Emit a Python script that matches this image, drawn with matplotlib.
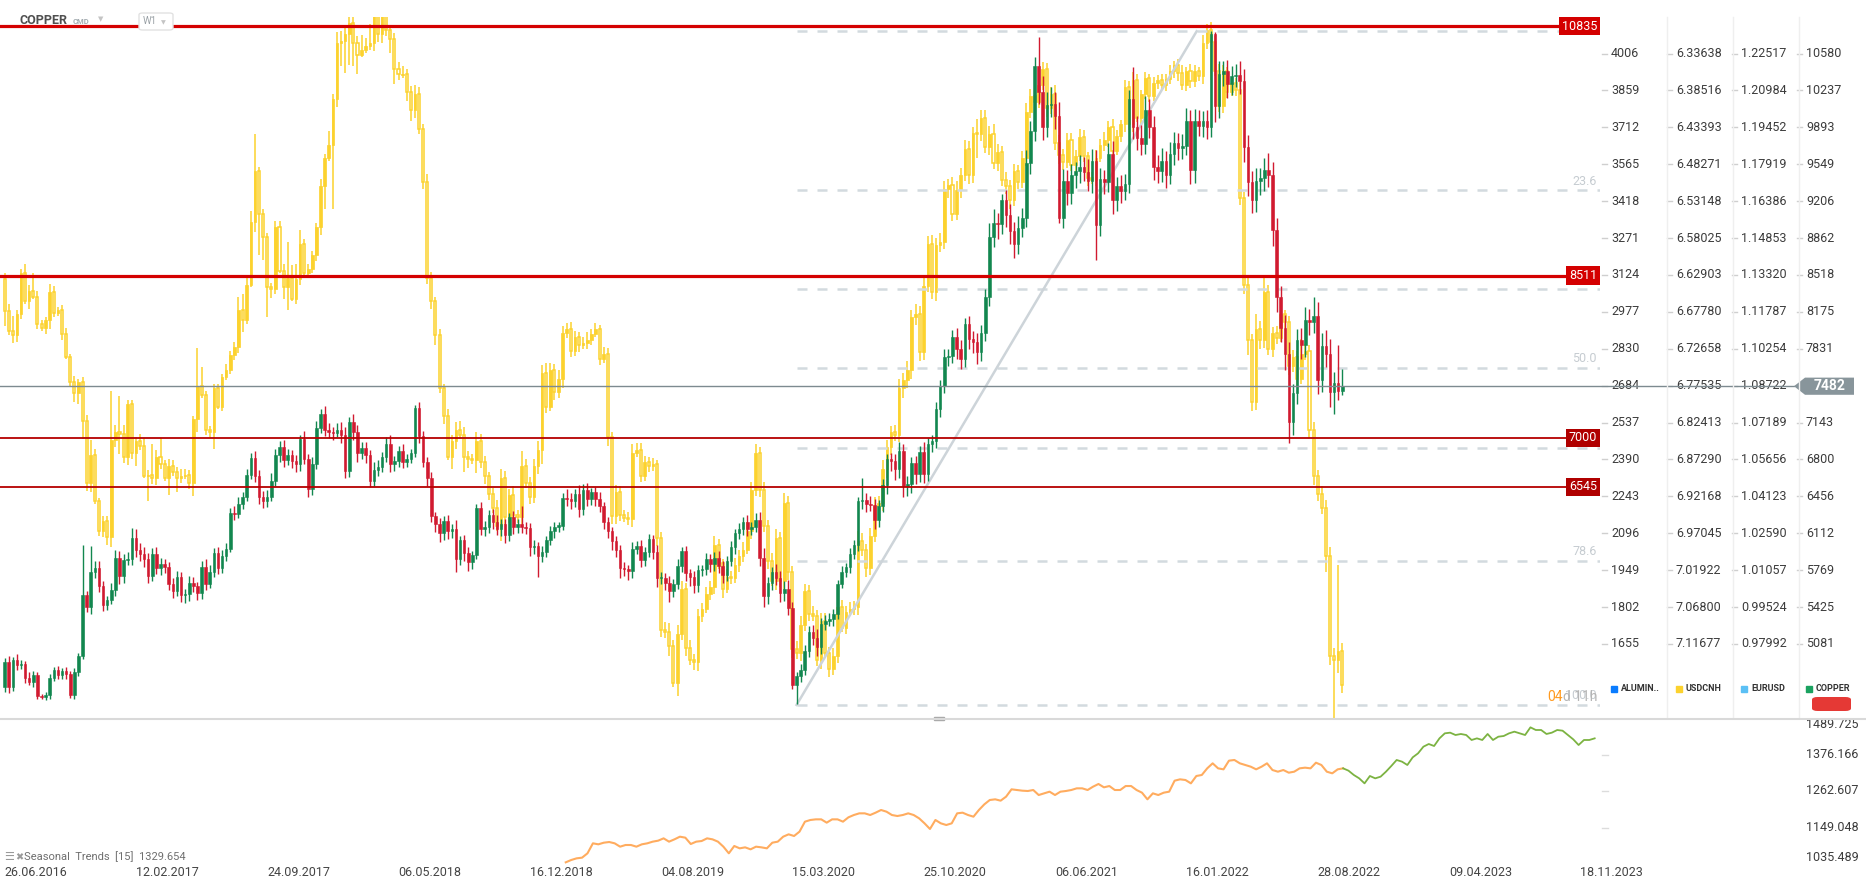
import numpy as np
import matplotlib
matplotlib.use("Agg")
import matplotlib.pyplot as plt
from matplotlib import font_manager
from matplotlib.patches import Polygon, Rectangle, FancyBboxPatch
from matplotlib.transforms import blended_transform_factory

# weekly bars starting 26.06.2016, each week opens at the previous close
cu_open0 = 4676
cu_close = [
    4912, 4676, 4933, 4882, 4890, 4762, 4728, 4792, 4599, 4591, 4605, 4762, 4839, 4796, 4826, 4805, 4604, 4817, 4967, 5533,
    5426, 5755, 5790, 5618, 5447, 5490, 5588, 5884, 5713, 5867, 5875, 6068, 5961, 5918, 5875, 5713, 5918, 5790, 5824, 5798,
    5640, 5575, 5704, 5533, 5545, 5653, 5618, 5554, 5798, 5640, 5755, 5931, 5790, 5897, 5970, 6304, 6290, 6389, 6453, 6655,
    6809, 6646, 6453, 6411, 6453, 6603, 6839, 6912, 6796, 6839, 6783, 6753, 6989, 6805, 6526, 6753, 7096, 7224, 7075, 7053,
    7045, 7075, 7023, 6689, 7147, 7053, 6860, 6903, 6839, 6603, 6702, 6732, 6818, 6946, 6753, 6783, 6882, 6780, 6805, 6860,
    7276, 7017, 6775, 6625, 6274, 6197, 6111, 6227, 6132, 6154, 5875, 6047, 5927, 5841, 5910, 6346, 6154, 6175, 6282, 6218,
    6154, 6197, 6098, 6261, 6175, 6197, 6175, 6160, 5982, 5991, 5905, 5940, 6047, 6132, 6175, 6184, 6441, 6430, 6411, 6475,
    6338, 6518, 6432, 6496, 6432, 6368, 6218, 6132, 6038, 5961, 5790, 5780, 5760, 5970, 5990, 5867, 5940, 6055, 5940, 5695,
    5700, 5653, 5575, 5640, 5811, 5948, 5738, 5704, 5627, 5768, 5781, 5875, 5824, 5884, 5811, 5725, 5853, 5982, 6111, 6154,
    6218, 6154, 6175, 6240, 5884, 5524, 5648, 5747, 5700, 5554, 5597, 5413, 4697, 4783, 4839, 5019, 5190, 5139, 5050, 5267,
    5297, 5310, 5361, 5640, 5755, 5798, 5918, 6004, 6411, 6424, 6389, 6375, 6240, 6368, 6560, 6800, 6783, 6710, 6882, 6552,
    6569, 6766, 6668, 6869, 6668, 6946, 6968, 7268, 7481, 7751, 7768, 7940, 7824, 7738, 8060, 7923, 7890, 7803, 7974, 8317,
    8874, 9002, 8993, 9216, 9079, 8925, 8809, 8960, 9045, 9559, 9858, 10467, 10223, 9901, 10100, 10115, 9996, 9053, 9396, 9280,
    9450, 9482, 9524, 9480, 9396, 9580, 8980, 9409, 9380, 9644, 9216, 9345, 9302, 9366, 10158, 9901, 9794, 9739, 10051, 9901,
    9524, 9482, 9580, 9452, 9644, 9751, 9700, 9721, 9953, 9494, 9953, 9910, 9953, 9901, 10758, 10094, 10394, 10415, 10300, 10373,
    10380, 10321, 9709, 9387, 9216, 9396, 9420, 9494, 9452, 8938, 8317, 8025, 7781, 7152, 7417, 7910, 7867, 8102, 8081, 8132,
    7537, 7854, 7781, 7426, 7511, 7439, 7482,
]
# wick lengths above / below the body ($/t)
cu_up = [
    40, 60, 30, 50, 40, 30, 60, 40, 30, 20, 30, 40, 30, 40, 30, 40, 20, 40, 30, 470,
    40, 236, 60, 60, 50, 40, 60, 70, 60, 50, 60, 90, 80, 60, 70, 50, 60, 70, 60, 50,
    50, 60, 60, 50, 50, 60, 50, 40, 60, 70, 60, 40, 50, 60, 50, 40, 60, 60, 40, 60,
    50, 70, 60, 50, 60, 70, 60, 60, 70, 60, 50, 60, 40, 80, 50, 70, 60, 50, 70, 60,
    50, 60, 70, 80, 50, 80, 70, 60, 60, 50, 70, 60, 50, 60, 80, 50, 40, 60, 50, 40,
    34, 60, 50, 50, 60, 40, 60, 50, 60, 40, 80, 40, 50, 60, 40, 43, 60, 50, 50, 60,
    60, 50, 50, 40, 60, 50, 171, 40, 50, 60, 40, 50, 40, 50, 40, 30, 50, 80, 60, 50,
    90, 50, 60, 40, 50, 60, 40, 50, 40, 50, 40, 50, 40, 60, 50, 60, 40, 50, 40, 60,
    50, 40, 60, 50, 60, 40, 50, 40, 60, 50, 40, 50, 40, 50, 60, 40, 50, 60, 40, 50,
    50, 60, 40, 60, 70, 90, 60, 50, 80, 60, 70, 80, 60, 40, 60, 50, 60, 70, 80, 60,
    50, 60, 50, 40, 50, 40, 60, 50, 40, 200, 60, 70, 60, 50, 60, 50, 60, 70, 80, 60,
    80, 60, 70, 60, 90, 50, 60, 70, 60, 80, 60, 70, 80, 90, 60, 80, 70, 90, 80, 70,
    128, 128, 90, 60, 90, 100, 90, 110, 100, 120, 90, 77, 270, 150, 120, 150, 110, 130, 110, 100,
    100, 90, 110, 90, 120, 110, 100, 110, 90, 100, 120, 90, 100, 90, 86, 300, 100, 120, 130, 110,
    100, 110, 120, 90, 110, 100, 90, 110, 120, 100, 110, 100, 90, 100, 30, 20, 120, 100, 110, 90,
    100, 130, 120, 110, 100, 120, 90, 110, 160, 120, 110, 100, 120, 110, 90, 107, 110, 120, 100, 185,
    130, 120, 150, 140, 100, 356, 158,
]
cu_dn = [
    40, 50, 30, 40, 30, 40, 30, 50, 30, 20, 30, 40, 30, 40, 40, 50, 30, 40, 30, 30,
    50, 64, 60, 50, 60, 50, 40, 60, 70, 60, 50, 60, 70, 60, 80, 60, 50, 60, 70, 60,
    60, 70, 50, 60, 70, 60, 50, 60, 50, 60, 40, 50, 60, 50, 40, 30, 50, 40, 50, 40,
    40, 60, 70, 60, 50, 40, 50, 60, 70, 50, 60, 70, 60, 50, 80, 60, 40, 50, 60, 50,
    60, 40, 70, 60, 50, 70, 80, 60, 70, 60, 50, 60, 50, 40, 70, 60, 50, 60, 50, 40,
    40, 60, 50, 70, 60, 70, 80, 60, 70, 60, 128, 60, 70, 80, 60, 40, 60, 70, 60, 70,
    60, 70, 80, 60, 70, 60, 60, 50, 80, 60, 201, 60, 50, 40, 60, 50, 40, 60, 70, 50,
    70, 60, 70, 60, 70, 60, 70, 60, 80, 70, 90, 70, 80, 60, 50, 70, 60, 50, 70, 80,
    60, 70, 100, 60, 50, 60, 70, 80, 70, 60, 50, 60, 70, 60, 70, 80, 60, 50, 60, 50,
    60, 70, 60, 50, 80, 100, 70, 60, 70, 80, 70, 60, 40, 171, 60, 50, 60, 70, 80, 60,
    60, 50, 60, 50, 40, 50, 60, 50, 60, 70, 80, 60, 90, 70, 60, 80, 90, 100, 80, 100,
    90, 80, 100, 80, 90, 70, 80, 60, 70, 60, 80, 70, 90, 100, 80, 90, 100, 110, 90, 70,
    90, 100, 140, 90, 110, 120, 130, 100, 90, 80, 100, 90, 110, 130, 100, 110, 120, 51, 100, 110,
    100, 120, 110, 90, 100, 110, 321, 100, 110, 90, 130, 100, 110, 90, 80, 120, 110, 100, 90, 110,
    120, 110, 100, 120, 90, 100, 110, 100, 90, 130, 120, 100, 110, 120, 100, 150, 110, 120, 130, 110,
    100, 120, 140, 130, 120, 110, 130, 120, 110, 150, 140, 130, 150, 197, 120, 100, 130, 110, 120, 100,
    130, 110, 120, 140, 201, 90, 40,
]

cnh_open0 = 6.634
cnh_close = [
    6.677, 6.703, 6.709, 6.681, 6.627, 6.664, 6.650, 6.658, 6.694, 6.699, 6.688, 6.651, 6.679, 6.675, 6.707, 6.737, 6.770, 6.785, 6.770, 6.822,
    6.904, 6.867, 6.928, 6.968, 6.954, 6.975, 6.847, 6.837, 6.839, 6.870, 6.800, 6.864, 6.849, 6.855, 6.895, 6.893, 6.897, 6.870, 6.879, 6.898,
    6.882, 6.889, 6.898, 6.895, 6.893, 6.904, 6.820, 6.776, 6.788, 6.834, 6.837, 6.779, 6.803, 6.764, 6.755, 6.735, 6.724, 6.675, 6.688, 6.642,
    6.559, 6.492, 6.548, 6.579, 6.645, 6.648, 6.566, 6.624, 6.645, 6.633, 6.661, 6.634, 6.588, 6.627, 6.621, 6.603, 6.566, 6.512, 6.475, 6.457,
    6.397, 6.323, 6.320, 6.311, 6.296, 6.323, 6.338, 6.332, 6.326, 6.323, 6.287, 6.311, 6.287, 6.305, 6.317, 6.357, 6.363, 6.363, 6.387, 6.411,
    6.390, 6.436, 6.506, 6.633, 6.664, 6.709, 6.779, 6.816, 6.870, 6.849, 6.834, 6.840, 6.870, 6.872, 6.873, 6.849, 6.876, 6.895, 6.918, 6.937,
    6.961, 6.898, 6.949, 6.920, 6.946, 6.949, 6.882, 6.904, 6.922, 6.882, 6.861, 6.758, 6.803, 6.755, 6.784, 6.767, 6.706, 6.701, 6.730, 6.711,
    6.721, 6.719, 6.715, 6.707, 6.701, 6.740, 6.734, 6.843, 6.948, 6.916, 6.946, 6.950, 6.952, 6.864, 6.861, 6.895, 6.876, 6.882, 6.879, 6.977,
    7.098, 7.101, 7.120, 7.168, 7.104, 7.044, 7.122, 7.138, 7.141, 7.080, 7.070, 7.051, 7.041, 6.986, 7.010, 7.044, 7.028, 7.030, 7.013, 7.001,
    6.992, 6.968, 6.913, 6.864, 6.913, 6.961, 7.007, 7.034, 6.977, 7.034, 6.931, 7.022, 7.123, 7.129, 7.092, 7.047, 7.077, 7.080, 7.138, 7.086,
    7.129, 7.150, 7.132, 7.068, 7.095, 7.074, 7.071, 7.068, 6.980, 6.992, 7.016, 6.974, 6.934, 6.931, 6.886, 6.857, 6.837, 6.840, 6.779, 6.768,
    6.755, 6.685, 6.680, 6.731, 6.644, 6.588, 6.651, 6.590, 6.585, 6.515, 6.510, 6.548, 6.517, 6.497, 6.462, 6.497, 6.441, 6.442, 6.421, 6.460,
    6.442, 6.481, 6.466, 6.503, 6.512, 6.530, 6.492, 6.506, 6.475, 6.414, 6.393, 6.400, 6.378, 6.357, 6.408, 6.390, 6.454, 6.470, 6.480, 6.451,
    6.484, 6.472, 6.446, 6.472, 6.501, 6.503, 6.474, 6.457, 6.450, 6.433, 6.465, 6.445, 6.430, 6.381, 6.430, 6.371, 6.421, 6.390, 6.369, 6.393,
    6.375, 6.371, 6.378, 6.370, 6.360, 6.352, 6.362, 6.378, 6.360, 6.372, 6.360, 6.366, 6.322, 6.305, 6.321, 6.360, 6.405, 6.360, 6.387, 6.375,
    6.384, 6.527, 6.642, 6.715, 6.797, 6.700, 6.715, 6.652, 6.727, 6.706, 6.712, 6.681, 6.691, 6.749, 6.738, 6.767, 6.734, 6.730, 6.834, 6.895,
    6.918, 6.937, 7.001, 7.132, 7.138, 7.126, 7.171,
]
cnh_up = [
    0.020, 0.005, 0.010, 0.008, 0.006, 0.004, 0.010, 0.003, 0.006, 0.004, 0.008, 0.012, 0.006, 0.004, 0.008, 0.003, 0.006, 0.012, 0.015, 0.024,
    0.010, 0.012, 0.004, 0.006, 0.008, 0.011, 0.014, 0.010, 0.026, 0.008, 0.010, 0.008, 0.018, 0.005, 0.003, 0.033, 0.008, 0.010, 0.006, 0.003,
    0.022, 0.006, 0.018, 0.006, 0.004, 0.008, 0.017, 0.017, 0.004, 0.006, 0.006, 0.022, 0.003, 0.006, 0.004, 0.005, 0.006, 0.008, 0.017, 0.006,
    0.003, 0.013, 0.055, 0.030, 0.040, 0.012, 0.006, 0.003, 0.016, 0.030, 0.003, 0.006, 0.008, 0.006, 0.006, 0.006, 0.008, 0.010, 0.030, 0.003,
    0.085, 0.010, 0.030, 0.042, 0.040, 0.030, 0.026, 0.003, 0.004, 0.006, 0.010, 0.010, 0.012, 0.008, 0.018, 0.020, 0.008, 0.006, 0.012, 0.014,
    0.010, 0.006, 0.010, 0.008, 0.010, 0.012, 0.006, 0.010, 0.004, 0.016, 0.010, 0.006, 0.020, 0.012, 0.006, 0.018, 0.008, 0.010, 0.008, 0.006,
    0.006, 0.020, 0.010, 0.008, 0.006, 0.008, 0.010, 0.006, 0.010, 0.008, 0.010, 0.018, 0.008, 0.006, 0.010, 0.008, 0.012, 0.006, 0.008, 0.006,
    0.010, 0.006, 0.008, 0.006, 0.004, 0.008, 0.006, 0.012, 0.010, 0.010, 0.008, 0.006, 0.008, 0.010, 0.006, 0.008, 0.006, 0.008, 0.006, 0.010,
    0.010, 0.008, 0.012, 0.006, 0.018, 0.008, 0.010, 0.006, 0.010, 0.012, 0.008, 0.006, 0.008, 0.010, 0.008, 0.012, 0.006, 0.008, 0.006, 0.008,
    0.008, 0.006, 0.010, 0.008, 0.010, 0.008, 0.010, 0.006, 0.012, 0.008, 0.012, 0.010, 0.012, 0.008, 0.010, 0.008, 0.010, 0.006, 0.008, 0.012,
    0.006, 0.010, 0.008, 0.010, 0.006, 0.008, 0.006, 0.008, 0.010, 0.008, 0.012, 0.010, 0.008, 0.012, 0.010, 0.012, 0.010, 0.008, 0.010, 0.012,
    0.010, 0.012, 0.010, 0.012, 0.010, 0.008, 0.010, 0.012, 0.008, 0.010, 0.012, 0.010, 0.008, 0.010, 0.008, 0.012, 0.010, 0.033, 0.010, 0.008,
    0.010, 0.008, 0.010, 0.008, 0.010, 0.012, 0.008, 0.010, 0.008, 0.010, 0.008, 0.010, 0.008, 0.006, 0.012, 0.008, 0.010, 0.012, 0.010, 0.008,
    0.008, 0.010, 0.006, 0.008, 0.010, 0.006, 0.008, 0.006, 0.008, 0.010, 0.008, 0.006, 0.008, 0.010, 0.008, 0.010, 0.006, 0.008, 0.006, 0.008,
    0.006, 0.008, 0.006, 0.008, 0.006, 0.008, 0.010, 0.006, 0.008, 0.010, 0.008, 0.006, 0.010, 0.008, 0.050, 0.006, 0.008, 0.010, 0.008, 0.006,
    0.008, 0.010, 0.012, 0.020, 0.012, 0.010, 0.012, 0.010, 0.008, 0.010, 0.008, 0.006, 0.008, 0.012, 0.008, 0.010, 0.006, 0.008, 0.010, 0.012,
    0.010, 0.008, 0.020, 0.012, 0.076, 0.017, 0.010,
]
cnh_dn = [
    0.007, 0.010, 0.020, 0.006, 0.006, 0.013, 0.008, 0.024, 0.008, 0.006, 0.004, 0.010, 0.008, 0.004, 0.006, 0.008, 0.004, 0.008, 0.004, 0.006,
    0.008, 0.020, 0.008, 0.004, 0.006, 0.006, 0.065, 0.010, 0.048, 0.012, 0.006, 0.006, 0.006, 0.010, 0.010, 0.006, 0.040, 0.010, 0.026, 0.006,
    0.010, 0.008, 0.006, 0.010, 0.008, 0.006, 0.005, 0.051, 0.026, 0.006, 0.005, 0.006, 0.006, 0.004, 0.008, 0.006, 0.006, 0.017, 0.021, 0.009,
    0.014, 0.050, 0.006, 0.006, 0.006, 0.006, 0.009, 0.009, 0.010, 0.048, 0.017, 0.019, 0.018, 0.006, 0.006, 0.006, 0.006, 0.010, 0.006, 0.018,
    0.007, 0.015, 0.013, 0.009, 0.009, 0.020, 0.010, 0.020, 0.010, 0.026, 0.010, 0.010, 0.010, 0.010, 0.006, 0.008, 0.010, 0.010, 0.006, 0.008,
    0.012, 0.010, 0.006, 0.010, 0.008, 0.006, 0.008, 0.006, 0.010, 0.008, 0.010, 0.012, 0.010, 0.008, 0.006, 0.012, 0.010, 0.008, 0.006, 0.008,
    0.010, 0.012, 0.010, 0.008, 0.012, 0.006, 0.020, 0.010, 0.008, 0.010, 0.012, 0.010, 0.012, 0.010, 0.008, 0.012, 0.010, 0.008, 0.010, 0.008,
    0.006, 0.008, 0.010, 0.006, 0.008, 0.006, 0.010, 0.008, 0.006, 0.010, 0.008, 0.006, 0.008, 0.012, 0.010, 0.010, 0.008, 0.006, 0.008, 0.006,
    0.008, 0.010, 0.012, 0.008, 0.012, 0.010, 0.008, 0.010, 0.008, 0.010, 0.008, 0.010, 0.008, 0.012, 0.008, 0.006, 0.010, 0.008, 0.010, 0.008,
    0.010, 0.012, 0.010, 0.012, 0.008, 0.010, 0.008, 0.010, 0.012, 0.008, 0.014, 0.010, 0.008, 0.010, 0.012, 0.010, 0.008, 0.010, 0.008, 0.010,
    0.010, 0.008, 0.010, 0.008, 0.010, 0.008, 0.010, 0.008, 0.012, 0.010, 0.008, 0.010, 0.012, 0.010, 0.012, 0.010, 0.008, 0.010, 0.012, 0.010,
    0.012, 0.010, 0.012, 0.010, 0.012, 0.010, 0.012, 0.010, 0.012, 0.010, 0.008, 0.010, 0.012, 0.010, 0.012, 0.010, 0.008, 0.018, 0.010, 0.010,
    0.010, 0.012, 0.010, 0.008, 0.010, 0.008, 0.010, 0.008, 0.010, 0.012, 0.010, 0.012, 0.008, 0.010, 0.008, 0.010, 0.012, 0.010, 0.008, 0.010,
    0.010, 0.008, 0.010, 0.008, 0.006, 0.008, 0.010, 0.008, 0.010, 0.008, 0.010, 0.008, 0.006, 0.010, 0.008, 0.010, 0.008, 0.006, 0.008, 0.006,
    0.008, 0.006, 0.008, 0.006, 0.008, 0.006, 0.008, 0.010, 0.006, 0.010, 0.008, 0.006, 0.010, 0.008, 0.010, 0.008, 0.010, 0.008, 0.006, 0.008,
    0.006, 0.010, 0.008, 0.010, 0.008, 0.020, 0.010, 0.020, 0.010, 0.008, 0.010, 0.008, 0.006, 0.008, 0.010, 0.008, 0.020, 0.010, 0.008, 0.010,
    0.008, 0.010, 0.010, 0.012, 0.010, 0.113, 0.010,
]

levels = [10835, 8511, 7000, 6545]
last_price = 7482
fib_low, fib_high = 4513, 10788
fib_start_week, fib_end_week = 193, 290.5
fib_pcts = [0.0, 23.6, 38.2, 50.0, 61.8, 78.6, 100.0]
fib_labelled = [0.0, 23.6, 50.0, 78.6, 100.0]  # 38.2 and 61.8 sit under the level boxes

date_labels = ["26.06.2016", "12.02.2017", "24.09.2017", "06.05.2018", "16.12.2018", "04.08.2019", "15.03.2020",
               "25.10.2020", "06.06.2021", "16.01.2022", "28.08.2022", "09.04.2023", "18.11.2023"]
date_step_weeks = 32

cu_ticks = [10580, 10237, 9893, 9549, 9206, 8862, 8518, 8175, 7831, 7487, 7143, 6800, 6456, 6112, 5769, 5425, 5081]
alu_ticks = ["4006", "3859", "3712", "3565", "3418", "3271", "3124", "2977", "2830", "2684", "2537", "2390", "2243",
             "2096", "1949", "1802", "1655"]
usdcnh_ticks = ["6.33638", "6.38516", "6.43393", "6.48271", "6.53148", "6.58025", "6.62903", "6.67780", "6.72658",
                "6.77535", "6.82413", "6.87290", "6.92168", "6.97045", "7.01922", "7.06800", "7.11677"]
eurusd_ticks = ["1.22517", "1.20984", "1.19452", "1.17919", "1.16386", "1.14853", "1.13320", "1.11787", "1.10254",
                "1.08722", "1.07189", "1.05656", "1.04123", "1.02590", "1.01057", "0.99524", "0.97992"]

seasonal_past = [
    1040.7, 1047.9, 1053.1, 1055.2, 1068.7, 1099.8, 1096.7, 1101.8, 1103.9, 1099.8, 1089.4, 1094.6, 1094.6, 1089.4,
    1096.7, 1099.8, 1105.0, 1108.1, 1115.3, 1105.0, 1112.2, 1120.5, 1117.4, 1097.7, 1105.0, 1107.0, 1115.3, 1112.2,
    1105.0, 1089.4, 1068.7, 1091.5, 1084.2, 1087.3, 1081.1, 1089.4, 1087.3, 1084.2, 1101.8, 1105.0, 1120.5, 1127.8,
    1122.6, 1136.1, 1167.2, 1172.4, 1174.4, 1174.4, 1164.1, 1174.4, 1174.4, 1167.2, 1180.7, 1187.9, 1193.1, 1193.1,
    1187.9, 1195.2, 1203.5, 1198.3, 1187.9, 1184.8, 1187.9, 1193.1, 1187.9, 1177.6, 1162.0, 1144.4, 1172.4, 1162.0,
    1156.8, 1162.0, 1193.1, 1195.2, 1187.9, 1182.7, 1203.5, 1221.1, 1234.6, 1236.7, 1232.5, 1245.0, 1267.8, 1265.7,
    1263.6, 1262.6, 1265.7, 1250.1, 1255.3, 1260.5, 1250.1, 1260.5, 1262.6, 1265.7, 1270.9, 1270.9, 1265.7, 1276.1,
    1284.4, 1274.0, 1278.1, 1265.7, 1265.7, 1278.1, 1278.1, 1265.7, 1257.4, 1236.7, 1255.3, 1250.1, 1257.4, 1260.5,
    1294.7, 1298.9, 1296.8, 1286.4, 1309.3, 1312.4, 1333.1, 1348.7, 1333.1, 1330.0, 1357.0, 1359.1, 1348.7, 1343.5,
    1338.3, 1330.0, 1338.3, 1348.7, 1327.9, 1322.7, 1327.9, 1319.6, 1322.7, 1333.1, 1335.2, 1333.1, 1350.7, 1343.5,
    1322.7, 1317.6, 1330.0, 1333.1,
]
seasonal_future = [
    1333.1, 1325.9, 1312.4, 1302.0, 1286.4, 1309.3, 1302.0, 1307.2, 1322.7, 1340.4, 1359.1, 1353.9, 1343.5, 1367.3,
    1379.8, 1400.5, 1408.8, 1402.6, 1426.4, 1442.0, 1444.1, 1436.8, 1440.0, 1436.8, 1421.3, 1426.4, 1421.3, 1440.0,
    1421.3, 1431.6, 1433.7, 1442.0, 1447.2, 1442.0, 1436.8, 1460.7, 1452.4, 1452.4, 1440.0, 1444.1, 1452.4, 1450.3,
    1436.8, 1423.3, 1405.7, 1421.3, 1421.3, 1426.4,
]
seasonal_weeks = (136.75, 326.2, 387.5)
seasonal_ticks = [1489.725, 1376.166, 1262.607, 1149.048, 1035.489]
seasonal_last = "1329.654"

# ---- style ----
GREEN, RED, YEL = "#12874f", "#d11a30", "#fcd22e"
FIB = "#d3dadf"
TXT = "#3c3c3c"

installed = {f.name for f in font_manager.fontManager.ttflist}
narrow = "Liberation Sans Narrow" in installed
plt.rcParams["font.family"] = ["Liberation Sans Narrow" if narrow else "Roboto", "DejaVu Sans"]
fs = 10.5 if narrow else 9

W, H = 1866, 889
fig = plt.figure(figsize=(W / 100, H / 100), dpi=100)
fig.patch.set_facecolor("white")


def fx(p):
    return p / W


def fy(p):
    return 1 - p / H


ax_fx = fig.add_axes([0, fy(718), fx(1600), (718 - 17) / H])
ax = ax_fx.twinx()
ax_s = fig.add_axes([0, fy(864), fx(1600), (864 - 718) / H])
for a in (ax_fx, ax, ax_s):
    a.set_xlim(-1.12, 388.8)
    for s in a.spines.values():
        s.set_visible(False)
    a.tick_params(left=False, right=False, bottom=False, top=False,
                  labelleft=False, labelright=False, labelbottom=False)
ax.set_ylim(4391.5, 10921)
ax_fx.set_ylim(7.2146, 6.2880)
ax_s.set_ylim(1035.489, 1489.725)
tr = blended_transform_factory(fig.transFigure, ax.transData)
tr_s = blended_transform_factory(fig.transFigure, ax_s.transData)

# ---- USDCNH (inverted scale, yellow) ----
m = min(len(cnh_close), len(cnh_up), len(cnh_dn))
xc = np.arange(m)
cc = np.array(cnh_close[:m])
oc = np.r_[cnh_open0, cc[:-1]]
hc = np.maximum(oc, cc) + np.array(cnh_up[:m])
lc = np.minimum(oc, cc) - np.array(cnh_dn[:m])
rise = cc > oc
body = np.maximum(np.abs(cc - oc), 0.0015)
base = np.minimum(oc, cc)
ax_fx.vlines(xc, lc, hc, color=YEL, lw=1.1, zorder=1)
ax_fx.bar(xc[rise], body[rise], bottom=base[rise], width=0.5, color="white", edgecolor=YEL, linewidth=1.1, zorder=2)
ax_fx.bar(xc[~rise], body[~rise], bottom=base[~rise], width=0.62, color=YEL, edgecolor=YEL, linewidth=0.5, zorder=2)

# ---- fibonacci ----
rng = fib_high - fib_low
for p in fib_pcts:
    lv = fib_high - rng * p / 100
    ax.plot([fib_start_week, 388.8], [lv, lv], color=FIB, lw=1.8, ls=(0, (4, 4)), zorder=1)
    if p in fib_labelled:
        ax.text(fx(1597), lv + 25, f"{p:.1f}", transform=tr, ha="right", va="bottom", fontsize=fs,
                color="#c6ccd1", zorder=5, clip_on=False)
ax.plot([fib_start_week, fib_end_week], [fib_low, fib_high], color="#cdd4d9", lw=1.8, zorder=2)

# ---- copper candles ----
n = min(len(cu_close), len(cu_up), len(cu_dn))
x = np.arange(n)
c = np.array(cu_close[:n], float)
o = np.r_[cu_open0, c[:-1]]
hi = np.maximum(o, c) + np.array(cu_up[:n])
lo = np.minimum(o, c) - np.array(cu_dn[:n])
col = np.where(c >= o, GREEN, RED)
ax.vlines(x, lo, hi, colors=col, lw=1, zorder=3)
ax.bar(x, np.maximum(np.abs(c - o), 10), bottom=np.minimum(o, c), width=0.62, color=col,
       edgecolor=col, linewidth=0.4, zorder=4)

# ---- horizontal levels ----
for lv in levels:
    strong = lv > 8000
    ax.axhline(lv, color="#d40000" if strong else "#b50000", lw=2.3 if strong else 1.3, zorder=6)
    ax.text(fx(1597), lv, str(lv), transform=tr, ha="right", va="center", fontsize=fs, color="white",
            bbox=dict(boxstyle="square,pad=0.22", fc="#d40000" if strong else "#b00000", ec="none"),
            zorder=9, clip_on=False)

# ---- last price ----
ax.plot([0, fx(1794)], [last_price, last_price], transform=tr, color="#7d8a90", lw=1, zorder=7, clip_on=False)
h = 80
ax.add_patch(Polygon([[fx(1794), last_price], [fx(1805), last_price + h], [fx(1854), last_price + h],
                      [fx(1854), last_price - h], [fx(1805), last_price - h]], closed=True, transform=tr,
                     fc="#88959b", ec="none", zorder=10, clip_on=False))
ax.text(fx(1830), last_price, str(last_price), transform=tr, ha="center", va="center", fontsize=fs + 1,
        color="white", fontweight="bold", zorder=11, clip_on=False)

# ---- right-hand price columns ----
col_x = [1611, 1676, 1741, 1806]
col_labels = [alu_ticks, usdcnh_ticks, eurusd_ticks, [str(v) for v in cu_ticks]]
for k, yv in enumerate(cu_ticks):
    for j, (x0, labels) in enumerate(zip(col_x, col_labels)):
        ax.plot([fx(x0 - 9), fx(x0 - 4)], [yv, yv], transform=tr, color="#cfcfcf", lw=1, clip_on=False)
        if j == 3 and abs(yv - last_price) < 100:
            continue  # hidden under the last-price tag
        ax.text(fx(x0), yv, labels[k], transform=tr, ha="left", va="center", fontsize=fs, color=TXT,
                zorder=5, clip_on=False)
for xs in (1666.5, 1732.5, 1798.5):
    fig.add_artist(plt.Line2D([fx(xs), fx(xs)], [fy(17), fy(718)], color="#efefef", lw=1))

# legend row
legend = [("ALUMIN..", "#0a7cff"), ("USDCNH", YEL), ("EURUSD", "#5bc0f5"), ("COPPER", "#1aa260")]
for x0, (name, cl) in zip(col_x, legend):
    fig.add_artist(Rectangle((fx(x0), fy(692)), fx(6), 6 / H, color=cl))
    fig.text(fx(x0 + 10), fy(688.5), name, ha="left", va="center", fontsize=fs - 2.5, fontweight="bold",
             color="#333333")
fig.add_artist(FancyBboxPatch((fx(1812), fy(711)), fx(39), 14 / H, boxstyle="round,pad=0,rounding_size=0.003",
                              fc="#e53935", ec="none"))

# countdown
fig.text(fx(1547), fy(697), "04", color="#ff9a1f", fontsize=fs + 1, ha="left", va="center")
fig.text(fx(1563), fy(697), "d 11h", color="#b5b5b5", fontsize=fs + 1, ha="left", va="center")

# top-left header
fig.text(fx(20), fy(21), "COPPER", fontsize=fs, fontweight="bold", color="#505050", ha="left", va="center")
fig.text(fx(73), fy(21), "CMD", fontsize=fs - 3.5, fontweight="bold", color="#a3abb0", ha="left", va="center")
fig.text(fx(98), fy(20), "\u25bc", fontsize=5, color="#c4c4c4", ha="left", va="center")
fig.add_artist(FancyBboxPatch((fx(139), fy(30)), fx(34), 17 / H, boxstyle="round,pad=0,rounding_size=0.002",
                              fc="white", ec="#e2e2e2", lw=1))
fig.text(fx(143), fy(21.5), "W1", fontsize=fs - 2, color="#9aa1a6", ha="left", va="center")
fig.text(fx(161), fy(22.5), "\u25bc", fontsize=4.5, color="#c4c4c4", ha="left", va="center")

# ---- panel separator ----
fig.add_artist(plt.Line2D([0, 1], [fy(718.5), fy(718.5)], color="#d9d9d9", lw=1.5))
fig.add_artist(Rectangle((fx(934), fy(720)), fx(10), 3 / H, color="#a8a8a8"))

# ---- seasonal trends panel ----
xp = np.linspace(seasonal_weeks[0], seasonal_weeks[1], len(seasonal_past))
xf = np.linspace(seasonal_weeks[1], seasonal_weeks[2], len(seasonal_future))
ax_s.plot(xp, seasonal_past, color="#ffac5f", lw=1.5)
ax_s.plot(xf, seasonal_future, color="#7cb342", lw=1.3)
for k, v in enumerate(seasonal_ticks):
    va = "top" if k == 0 else ("bottom" if k == len(seasonal_ticks) - 1 else "center")
    ax_s.text(fx(1806), v, f"{v:.3f}", transform=tr_s, ha="left", va=va, fontsize=fs, color=TXT, clip_on=False)
    if 0 < k < len(seasonal_ticks) - 1:
        ax_s.plot([fx(1602), fx(1608)], [v, v], transform=tr_s, color="#dcdcdc", lw=1, clip_on=False)
fig.text(fx(4), fy(857), "\u2630", fontsize=8, color="#9a9a9a", ha="left", va="center", family="DejaVu Sans")
fig.text(fx(15), fy(857), "\u2716", fontsize=7, color="#9a9a9a", ha="left", va="center", family="DejaVu Sans")
fig.text(fx(24), fy(857), f"Seasonal  Trends  [15]  {seasonal_last}", fontsize=fs - 1, color="#6f6f6f",
         ha="left", va="center")

ax_s.set_xticks(np.arange(len(date_labels)) * date_step_weeks)
ax_s.set_xticklabels(date_labels)
ax_s.tick_params(bottom=True, labelbottom=True, length=0, pad=1.5, labelsize=fs, labelcolor="#444444")
for t in ax_s.get_xticklabels():
    t.set_ha("left")

fig.savefig("out.png", dpi=100, facecolor="white")
